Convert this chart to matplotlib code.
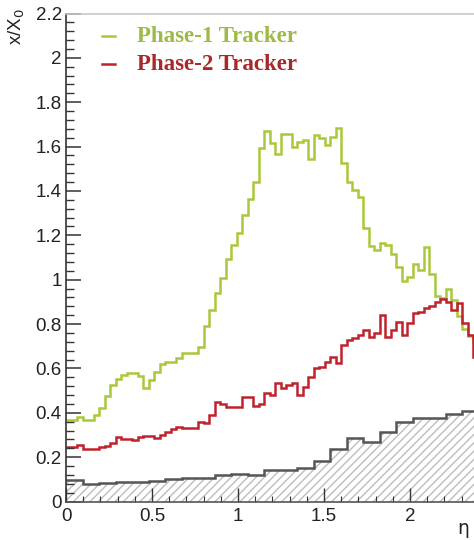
import numpy as np
import matplotlib
matplotlib.use("Agg")
import matplotlib.pyplot as plt
from matplotlib.lines import Line2D
from matplotlib.ticker import MultipleLocator, FixedLocator, FuncFormatter

# fine eta binning for the two trackers, coarse for the hatched part
bin_w = 0.032
coarse_w = 0.096

phase1 = [0.367, 0.367, 0.38, 0.367, 0.367, 0.39, 0.42, 0.475, 0.525, 0.552,
          0.57, 0.58, 0.58, 0.565, 0.51, 0.548, 0.585, 0.62, 0.628, 0.63,
          0.646, 0.671, 0.671, 0.671, 0.698, 0.791, 0.863, 0.941, 1.006, 1.095,
          1.156, 1.209, 1.292, 1.364, 1.442, 1.592, 1.672, 1.615, 1.567, 1.657,
          1.657, 1.60, 1.622, 1.63, 1.543, 1.652, 1.637, 1.607, 1.645, 1.683,
          1.525, 1.442, 1.404, 1.371, 1.232, 1.152, 1.134, 1.167, 1.156, 1.115,
          1.055, 0.992, 1.013, 1.071, 1.044, 1.149, 1.025, 0.927, 0.916, 0.959,
          0.908, 0.837, 0.777, 0.747, 0.72]

phase2 = [0.245, 0.245, 0.256, 0.238, 0.238, 0.238, 0.245, 0.25, 0.262, 0.29,
          0.282, 0.282, 0.278, 0.292, 0.296, 0.296, 0.285, 0.30, 0.315, 0.325,
          0.334, 0.33, 0.33, 0.33, 0.36, 0.355, 0.39, 0.45, 0.44, 0.427,
          0.427, 0.425, 0.47, 0.47, 0.43, 0.44, 0.49, 0.48, 0.533, 0.51,
          0.525, 0.536, 0.48, 0.518, 0.563, 0.60, 0.608, 0.63, 0.653, 0.623,
          0.706, 0.728, 0.736, 0.751, 0.773, 0.743, 0.761, 0.841, 0.743, 0.773,
          0.811, 0.751, 0.806, 0.848, 0.856, 0.871, 0.881, 0.901, 0.911, 0.901,
          0.863, 0.894, 0.803, 0.751, 0.653]

beampipe = [0.097, 0.079, 0.082, 0.087, 0.090, 0.092, 0.100, 0.107, 0.107, 0.118,
            0.126, 0.120, 0.142, 0.142, 0.150, 0.183, 0.235, 0.285, 0.270, 0.315,
            0.360, 0.375, 0.375, 0.395, 0.410]

labels = ["Phase-1 Tracker", "Phase-2 Tracker"]
line_colors = ["#a9c83c", "#c0222c"]
text_colors = ["#9cba45", "#a8282c"]
x_ticks = [0, 0.5, 1, 1.5, 2]

edges = np.arange(len(phase1) + 1) * bin_w
edges_c = np.arange(len(beampipe) + 1) * coarse_w

W, H = 474, 540
fig = plt.figure(figsize=(W / 100, H / 100), dpi=100)
# axes run past the right border, like the cropped original
ax = fig.add_axes([66 / W, 38.5 / H, 430 / W, 488 / H])
ax.set_xlim(0, 2.5)
ax.set_ylim(0, 2.2)

ax.stairs(beampipe, edges_c, fill=True, facecolor="none", edgecolor="#bdbdbd",
          hatch="////", linewidth=0)
ax.stairs(beampipe, edges_c, baseline=None, color="#555555", lw=1.8)
ax.stairs(phase1, edges, baseline=None, color=line_colors[0], lw=1.8)
ax.stairs(phase2, edges, baseline=None, color=line_colors[1], lw=1.8)

ax.spines["right"].set_visible(False)
ax.spines["top"].set_color("#c8c8c8")
ax.spines["left"].set_color("#333333")
ax.spines["bottom"].set_color("#555555")
for s in ["left", "bottom", "top"]:
    ax.spines[s].set_linewidth(1.2)

ax.xaxis.set_major_locator(FixedLocator(x_ticks))
ax.xaxis.set_minor_locator(MultipleLocator(0.1))
ax.yaxis.set_major_locator(MultipleLocator(0.2))
ax.yaxis.set_minor_locator(MultipleLocator(0.04))
fmt = FuncFormatter(lambda v, p: f"{v:g}")
ax.xaxis.set_major_formatter(fmt)
ax.yaxis.set_major_formatter(fmt)

ax.tick_params(which="both", direction="in", colors="#333333")
ax.tick_params(axis="y", which="major", length=11, width=1.1, pad=3,
               labelsize=13.5, labelcolor="#222222")
ax.tick_params(axis="y", which="minor", length=5.5, width=1.0)
ax.tick_params(axis="x", which="major", length=10, width=1.0, pad=5,
               labelsize=13.5, labelcolor="#222222")
ax.tick_params(axis="x", which="minor", length=4, width=0.8)
for t in ax.get_xticklabels() + ax.get_yticklabels():
    t.set_fontfamily("Liberation Sans")

fig.text(17 / W, 1 - 8 / H, "x/X$_{0}$", rotation=90, ha="center", va="top",
         fontsize=13.5, color="#222222", family="Liberation Sans")
fig.text(463 / W, 1 - 529 / H, "η", ha="center", va="center",
         fontsize=13.5, color="#222222", family="DejaVu Sans")

# legend drawn by hand
for i, (lab, lc, tc) in enumerate(zip(labels, line_colors, text_colors)):
    yy = 1 - (36 + 28 * i) / H
    fig.add_artist(Line2D([102 / W, 115 / W], [yy, yy], color=lc, lw=1.8))
    fig.text(137 / W, yy, lab, ha="left", va="center", fontsize=16.5,
             fontweight="bold", color=tc, family="Liberation Serif")

fig.savefig("out.png", dpi=100)
